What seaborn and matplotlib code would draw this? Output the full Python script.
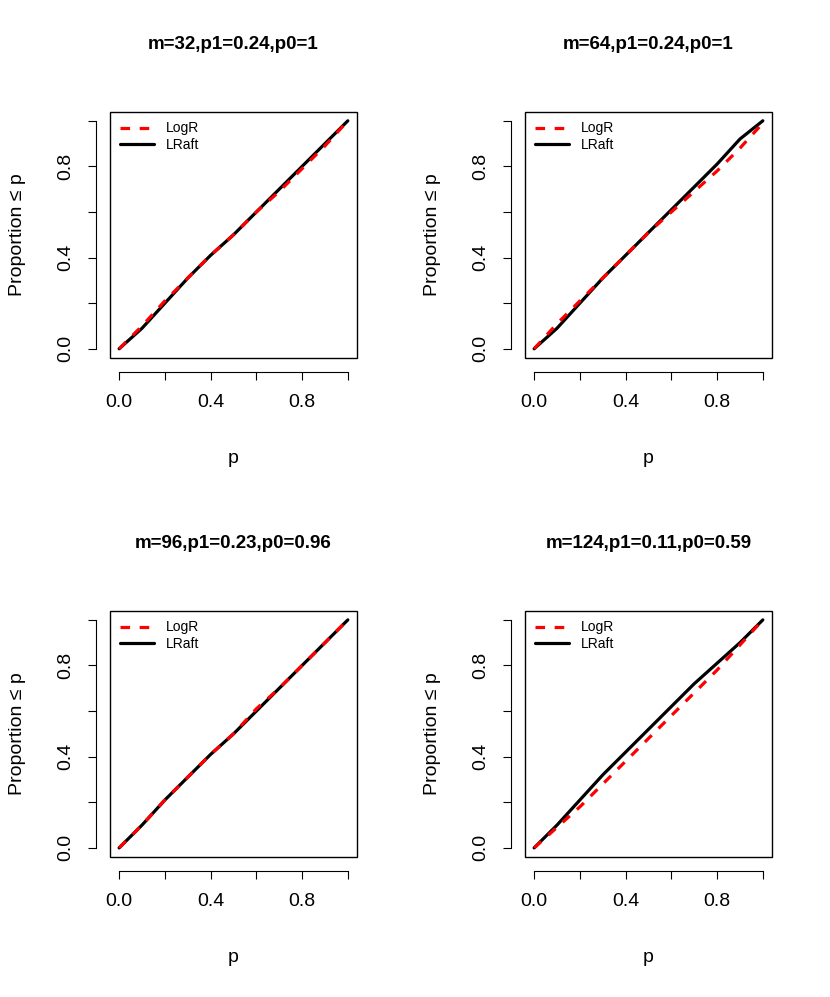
import numpy as np
import pandas as pd
import matplotlib
matplotlib.use("Agg")
import matplotlib.pyplot as plt
import seaborn as sns

p_grid = [0.0, 0.1, 0.2, 0.3, 0.4, 0.5, 0.6, 0.7, 0.8, 0.9, 1.0]

titles = ["m=32,p1=0.24,p0=1", "m=64,p1=0.24,p0=1",
          "m=96,p1=0.23,p0=0.96", "m=124,p1=0.11,p0=0.59"]

logr_1 = [0.0, 0.10, 0.21, 0.31, 0.41, 0.50, 0.60, 0.69, 0.79, 0.89, 1.0]
lraft_1 = [0.0, 0.09, 0.20, 0.31, 0.41, 0.50, 0.60, 0.70, 0.80, 0.90, 1.0]
logr_2 = [0.0, 0.11, 0.21, 0.31, 0.41, 0.51, 0.60, 0.69, 0.78, 0.88, 0.99]
lraft_2 = [0.0, 0.09, 0.20, 0.31, 0.41, 0.51, 0.61, 0.71, 0.81, 0.92, 1.0]
logr_3 = [0.0, 0.10, 0.21, 0.31, 0.41, 0.50, 0.61, 0.70, 0.80, 0.90, 1.0]
lraft_3 = [0.0, 0.10, 0.21, 0.31, 0.41, 0.50, 0.60, 0.70, 0.80, 0.90, 1.0]
logr_4 = [0.0, 0.09, 0.18, 0.28, 0.38, 0.48, 0.58, 0.68, 0.78, 0.89, 1.0]
lraft_4 = [0.0, 0.10, 0.21, 0.32, 0.42, 0.52, 0.62, 0.72, 0.81, 0.90, 1.0]

logr_all = [logr_1, logr_2, logr_3, logr_4]
lraft_all = [lraft_1, lraft_2, lraft_3, lraft_4]

sns.set_style("white")
plt.rcParams['font.family'] = ['Liberation Sans', 'DejaVu Sans']
plt.rcParams['text.color'] = 'black'
plt.rcParams['axes.labelcolor'] = 'black'
plt.rcParams['xtick.color'] = 'black'
plt.rcParams['ytick.color'] = 'black'

fig = plt.figure(figsize=(8.3, 9.97), dpi=100)
lefts = [0.1325, 0.6325, 0.1325, 0.6325]
bottoms = [0.641, 0.641, 0.1404, 0.1404]

for i in range(4):
    ax = fig.add_axes([lefts[i], bottoms[i], 0.2976, 0.247])
    df = pd.DataFrame({"p": p_grid * 2,
                       "prop": logr_all[i] + lraft_all[i],
                       "method": ["LogR"] * 11 + ["LRaft"] * 11})
    sns.lineplot(data=df[df.method == "LRaft"], x="p", y="prop", ax=ax,
                 color="black", lw=2.3, label="LRaft", zorder=2)
    sns.lineplot(data=df[df.method == "LogR"], x="p", y="prop", ax=ax,
                 color="red", lw=2.3, ls=(0, (3, 3)), label="LogR", zorder=3)
    ax.set_xlim(-0.04, 1.04)
    ax.set_ylim(-0.04, 1.04)
    # R style: box plus detached axes
    ax.add_patch(plt.Rectangle((0, 0), 1, 1, transform=ax.transAxes, fill=False,
                               lw=1, ec="black", clip_on=False))
    for s in ["top", "right"]:
        ax.spines[s].set_visible(False)
    for s in ["left", "bottom"]:
        ax.spines[s].set_position(("outward", 10))
        ax.spines[s].set_bounds(0, 1)
        ax.spines[s].set_color("black")
        ax.spines[s].set_linewidth(0.8)
    ticks = [0, 0.2, 0.4, 0.6, 0.8, 1.0]
    labs = ["0.0", "", "0.4", "", "0.8", ""]
    ax.set_xticks(ticks, labs)
    ax.set_yticks(ticks, labs, rotation=90, va="center")
    ax.tick_params(direction="out", length=6, width=0.8, color="black",
                   labelsize=14, bottom=True, left=True, pad=10)
    ax.set_xlabel("p", fontsize=14, labelpad=28)
    ax.set_ylabel("Proportion ≤ p", fontsize=14, labelpad=22)
    ax.set_title(titles[i], fontsize=13.5, fontweight="bold", pad=45)
    h, l = ax.get_legend_handles_labels()
    ax.legend(h[::-1], l[::-1], loc="upper left", frameon=False, fontsize=10,
              handlelength=2.5, borderaxespad=0.3, labelspacing=0.2)

fig.savefig("out.png", dpi=100)
